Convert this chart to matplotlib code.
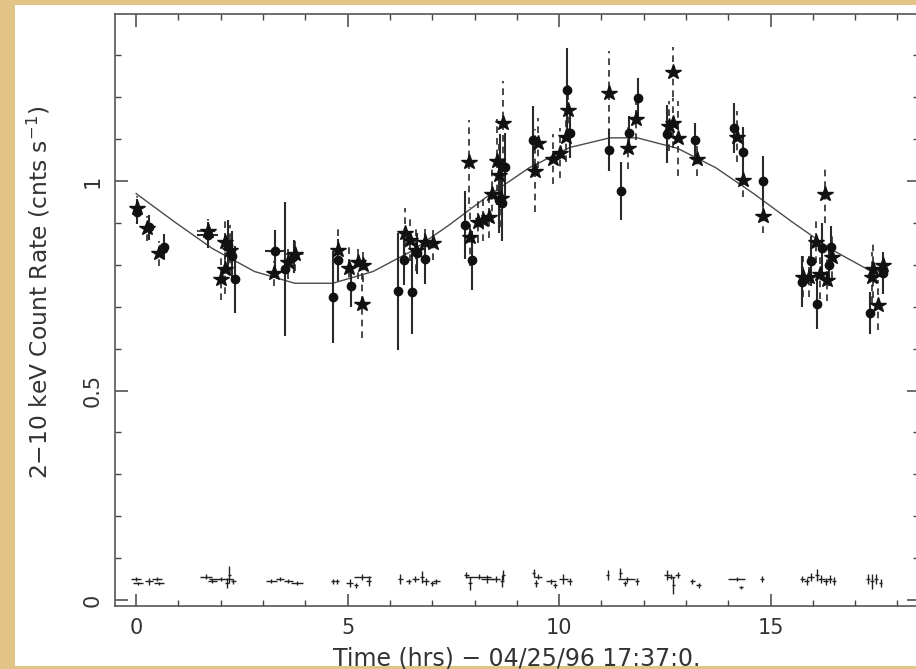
import matplotlib
matplotlib.use("Agg")
import matplotlib.pyplot as plt
from matplotlib.patches import Rectangle
from matplotlib.ticker import MultipleLocator

# ---- data ----
circ_x = [0.02, 0.30, 0.65, 1.69, 2.16, 2.26, 2.34, 3.29, 3.52, 3.73, 4.66, 4.78, 5.08,
          6.18, 6.34, 6.52, 6.64, 6.83, 7.78, 7.94, 8.60, 8.71, 8.57, 8.65, 9.38, 10.18,
          10.26, 11.19, 11.47, 11.66, 11.87, 12.56, 13.21, 14.14, 14.36, 14.81, 15.74,
          15.95, 16.09, 16.22, 16.39, 16.42, 17.34, 17.65]
circ_y = [0.927, 0.890, 0.843, 0.871, 0.847, 0.821, 0.765, 0.833, 0.790, 0.820, 0.724, 0.811, 0.749,
          0.737, 0.811, 0.734, 0.827, 0.815, 0.895, 0.811, 1.042, 1.034, 0.955, 0.947, 1.098, 1.217,
          1.115, 1.074, 0.976, 1.115, 1.197, 1.112, 1.099, 1.127, 1.070, 1.000, 0.760,
          0.809, 0.706, 0.839, 0.800, 0.843, 0.686, 0.780]
circ_yerr = [0.03, 0.03, 0.03, 0.03, 0.06, 0.06, 0.08, 0.05, 0.16, 0.04, 0.11, 0.05, 0.05,
             0.14, 0.06, 0.10, 0.05, 0.06, 0.08, 0.07, 0.07, 0.08, 0.08, 0.09, 0.08, 0.10,
             0.06, 0.05, 0.07, 0.04, 0.05, 0.07, 0.04, 0.06, 0.06, 0.06, 0.06,
             0.06, 0.06, 0.06, 0.05, 0.05, 0.05, 0.05]
circ_xerr = [0, 0, 0, 0.24, 0, 0, 0, 0.24, 0, 0.10, 0, 0, 0,
             0, 0, 0, 0, 0, 0, 0, 0, 0, 0, 0, 0, 0,
             0, 0, 0, 0, 0, 0, 0, 0, 0, 0, 0,
             0, 0, 0, 0, 0, 0, 0]

star_x = [0.02, 0.25, 0.55, 1.69, 2.10, 2.22, 2.09, 2.00, 3.25, 3.60, 3.76, 4.77, 5.04, 5.24,
          5.37, 5.33, 6.36, 6.48, 6.62, 6.83, 7.01, 7.87, 7.90, 8.08, 8.21, 8.35, 8.41, 8.53,
          8.59, 8.67, 8.62, 9.43, 9.51, 9.85, 10.01, 10.22, 10.17, 11.19, 11.64, 11.83, 12.60,
          12.70, 12.70, 12.80, 13.25, 14.20, 14.36, 14.81, 15.76, 15.91, 16.07, 16.17, 16.29,
          16.34, 16.45, 17.39, 17.43, 17.55, 17.65]
star_y = [0.935, 0.887, 0.827, 0.880, 0.855, 0.835, 0.791, 0.766, 0.780, 0.807, 0.826, 0.835, 0.793, 0.807,
          0.800, 0.706, 0.875, 0.859, 0.835, 0.855, 0.851, 1.045, 0.867, 0.903, 0.907, 0.915, 0.969, 1.047,
          1.014, 1.139, 0.960, 1.025, 1.090, 1.052, 1.066, 1.169, 1.106, 1.211, 1.078, 1.147, 1.131,
          1.138, 1.261, 1.102, 1.052, 1.106, 1.002, 0.916, 0.772, 0.772, 0.854, 0.778, 0.969,
          0.764, 0.819, 0.770, 0.790, 0.704, 0.800]
star_yerr = [0.03, 0.03, 0.03, 0.03, 0.05, 0.06, 0.06, 0.05, 0.03, 0.04, 0.04, 0.05, 0.05, 0.04,
             0.04, 0.08, 0.06, 0.05, 0.05, 0.04, 0.04, 0.10, 0.07, 0.05, 0.05, 0.05, 0.07, 0.10,
             0.08, 0.10, 0.07, 0.10, 0.06, 0.06, 0.06, 0.06, 0.06, 0.10, 0.05, 0.05, 0.06,
             0.06, 0.06, 0.09, 0.04, 0.06, 0.04, 0.04, 0.05, 0.05, 0.05, 0.06, 0.07,
             0.05, 0.05, 0.06, 0.07, 0.06, 0.04]
star_xerr = [0, 0, 0, 0.24, 0, 0, 0, 0, 0, 0, 0.24, 0, 0, 0,
             0, 0, 0, 0, 0, 0, 0, 0, 0, 0, 0, 0, 0, 0,
             0, 0, 0, 0, 0, 0, 0, 0, 0, 0, 0, 0, 0,
             0, 0, 0, 0, 0, 0, 0, 0, 0, 0, 0, 0,
             0, 0, 0, 0, 0, 0]

# model curve nodes
fit_x = [0.0, 0.9, 1.8, 2.8, 3.75, 4.65, 5.6, 6.5, 7.4, 8.3, 9.3, 10.25, 11.2, 11.85,
         12.8, 13.7, 14.6, 15.5, 16.45, 17.35]
fit_y = [0.970, 0.903, 0.839, 0.784, 0.756, 0.756, 0.784, 0.832, 0.895, 0.963, 1.032, 1.080,
         1.103, 1.103, 1.078, 1.032, 0.970, 0.903, 0.836, 0.786]

# background rate
bg_x = [0.00, 0.05, 0.30, 0.50, 0.55, 1.65, 1.80, 2.00, 2.15, 2.20, 2.30,
        3.20, 3.40, 3.60, 3.80, 4.65, 4.75, 5.05, 5.20, 5.35, 5.50,
        6.25, 6.45, 6.60, 6.75, 6.85, 7.00, 7.10, 7.80, 7.90, 8.10, 8.30, 8.50, 8.65,
        8.68, 9.40, 9.50, 9.45, 9.80, 9.90, 10.10, 10.25, 11.15, 11.45, 11.60, 11.55,
        11.85, 12.55, 12.65, 12.70, 12.80, 13.15, 13.30, 14.20, 14.30, 14.80,
        15.75, 15.85, 15.95, 16.10, 16.20, 16.30, 16.40, 16.50, 17.30, 17.40, 17.50, 17.60]
bg_y = [0.050, 0.040, 0.045, 0.050, 0.040, 0.055, 0.045, 0.050, 0.040, 0.060, 0.045,
        0.045, 0.050, 0.045, 0.040, 0.045, 0.045, 0.040, 0.035, 0.055, 0.045,
        0.050, 0.045, 0.050, 0.055, 0.045, 0.040, 0.045, 0.060, 0.040, 0.055, 0.050, 0.050, 0.045,
        0.060, 0.065, 0.055, 0.040, 0.045, 0.035, 0.050, 0.045, 0.060, 0.065, 0.050, 0.040,
        0.045, 0.060, 0.055, 0.035, 0.060, 0.045, 0.035, 0.050, 0.030, 0.050,
        0.050, 0.045, 0.055, 0.060, 0.050, 0.045, 0.050, 0.045, 0.050, 0.045, 0.050, 0.040]
bg_yerr = [0.004, 0.004, 0.008, 0.004, 0.004, 0.006, 0.004, 0.005, 0.012, 0.020, 0.006,
           0.004, 0.005, 0.004, 0.005, 0.006, 0.006, 0.010, 0.006, 0.008, 0.012,
           0.012, 0.006, 0.008, 0.015, 0.008, 0.006, 0.006, 0.008, 0.015, 0.006, 0.010, 0.008, 0.015,
           0.012, 0.010, 0.006, 0.008, 0.006, 0.006, 0.012, 0.008, 0.012, 0.012, 0.006, 0.006,
           0.008, 0.012, 0.006, 0.020, 0.008, 0.006, 0.006, 0.005, 0.004, 0.008,
           0.008, 0.008, 0.010, 0.015, 0.010, 0.008, 0.010, 0.010, 0.012, 0.018, 0.012, 0.010]
bg_xerr = [0.12, 0.12, 0.10, 0.12, 0.12, 0.15, 0.10, 0.28, 0.05, 0.04, 0.05,
           0.12, 0.10, 0.10, 0.15, 0.05, 0.05, 0.08, 0.05, 0.20, 0.06,
           0.05, 0.06, 0.08, 0.05, 0.08, 0.06, 0.08, 0.06, 0.05, 0.30, 0.15, 0.10, 0.05,
           0.03, 0.04, 0.10, 0.05, 0.12, 0.05, 0.10, 0.06, 0.03, 0.04, 0.20, 0.05,
           0.05, 0.08, 0.10, 0.03, 0.06, 0.06, 0.06, 0.20, 0.05, 0.05,
           0.06, 0.06, 0.08, 0.05, 0.08, 0.06, 0.06, 0.05, 0.04, 0.04, 0.05, 0.04]

xticks_major = [0, 5, 10, 15]
yticks_major = [0, 0.5, 1]
ytick_labels = ["0", "0.5", "1"]

# ---- figure ----
W, H = 916, 669
fig = plt.figure(figsize=(W / 100, H / 100), dpi=100)
fig.patch.set_facecolor("#E2C487")
fig.add_artist(Rectangle((15 / W, 1 - 666 / H), (W - 15) / W, (666 - 5) / H,
                         transform=fig.transFigure, facecolor="white", edgecolor="none", zorder=0))

ax = fig.add_axes([115 / W, 1 - 606 / H, 803.6 / W, (606 - 14) / H])
ax.set_facecolor("white")
ax.set_xlim(-0.5, 18.5)
ax.set_ylim(-0.0143, 1.3986)

ink = "#111111"

ax.plot(fit_x, fit_y, color="#4a4a4a", lw=1.0, zorder=2)

eb = ax.errorbar(circ_x, circ_y, yerr=circ_yerr, xerr=circ_xerr, fmt="o", ms=6,
                 color=ink, ecolor="#2a2a2a", elinewidth=1.5, capsize=0, zorder=3)

eb2 = ax.errorbar(star_x, star_y, yerr=star_yerr, xerr=star_xerr, fmt="*", ms=11.5,
                  color=ink, ecolor="#2a2a2a", elinewidth=1.2, capsize=0, zorder=3)
for lc in eb2[2]:
    lc.set_linestyle((0, (4, 3)))

ax.errorbar(bg_x, bg_y, yerr=bg_yerr, xerr=bg_xerr, fmt="none",
            ecolor="#222222", elinewidth=1.0, capsize=0, zorder=3)

for s in ax.spines.values():
    s.set_color("#555555")
    s.set_linewidth(1.2)

ax.xaxis.set_major_locator(MultipleLocator(5))
ax.xaxis.set_minor_locator(MultipleLocator(1))
ax.set_yticks(yticks_major)
ax.set_yticklabels(ytick_labels, rotation=90, va="center")
ax.yaxis.set_minor_locator(MultipleLocator(0.1))
ax.set_xticks(xticks_major)
ax.tick_params(which="both", direction="in", top=True, right=True, colors="#444444",
               labelcolor="#333333", labelsize=15)
ax.tick_params(which="major", length=9, width=1.1, pad=9)
ax.tick_params(which="minor", length=4.5, width=1.0)

ax.set_xlabel("Time (hrs) \u2212 04/25/96 17:37:0.", fontsize=17, color="#333333", labelpad=6)
ax.set_ylabel("2\u221210 keV Count Rate (cnts s$^{-1}$)", fontsize=16.8, color="#333333")
ax.yaxis.set_label_coords(-0.078, 0.53)

fig.savefig("out.png", dpi=100, facecolor=fig.get_facecolor())
